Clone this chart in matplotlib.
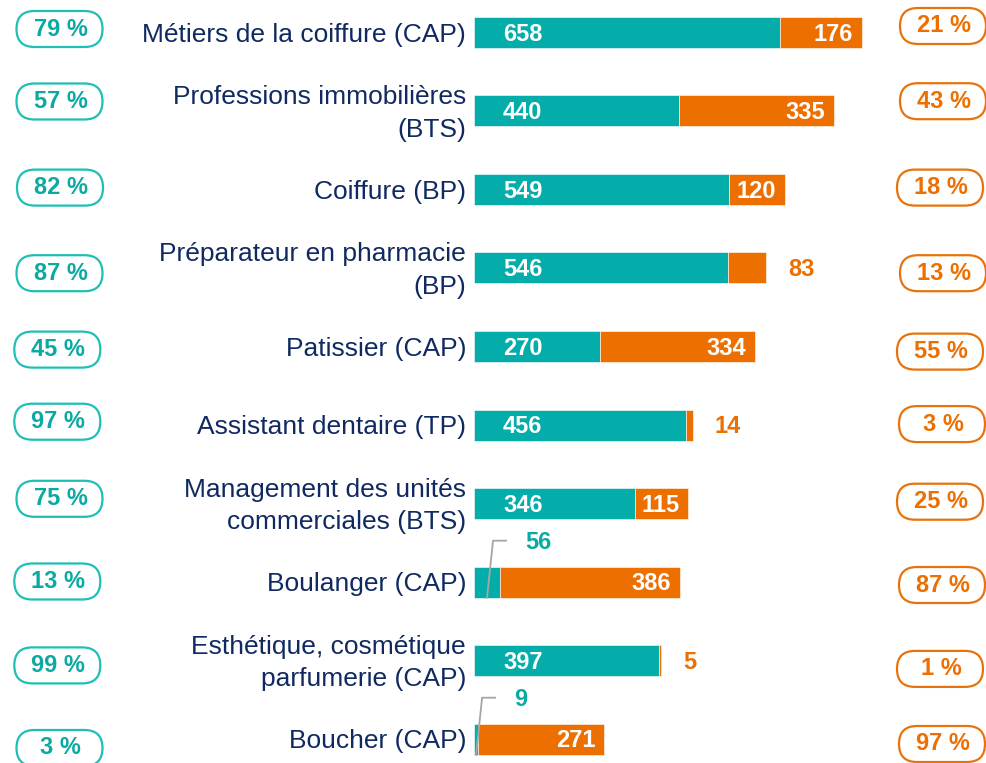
import matplotlib
matplotlib.use("Agg")
import matplotlib.pyplot as plt
from matplotlib.patches import FancyBboxPatch
import matplotlib.transforms as mtransforms

plt.rcParams['font.family'] = ['Liberation Sans', 'DejaVu Sans']

categories = [
    "Métiers de la coiffure (CAP)",
    "Professions immobilières\n(BTS)",
    "Coiffure (BP)",
    "Préparateur en pharmacie\n(BP)",
    "Patissier (CAP)",
    "Assistant dentaire (TP)",
    "Management des unités\ncommerciales (BTS)",
    "Boulanger (CAP)",
    "Esthétique, cosmétique\nparfumerie (CAP)",
    "Boucher (CAP)",
]
teal_values = [658, 440, 549, 546, 270, 456, 346, 56, 397, 9]
orange_values = [176, 335, 120, 83, 334, 14, 115, 386, 5, 271]
teal_pct = ["79 %", "57 %", "82 %", "87 %", "45 %", "97 %", "75 %", "13 %", "99 %", "3 %"]
orange_pct = ["21 %", "43 %", "18 %", "13 %", "55 %", "3 %", "25 %", "87 %", "1 %", "97 %"]

# badge layout (pixel positions of the decorative pills)
left_badge_x = [59.5, 59.5, 60, 59.5, 57.3, 57.3, 59.5, 57.3, 57.3, 59.5]
left_badge_y = [29, 101.5, 187.6, 273.2, 349.6, 421.7, 498.8, 581.5, 665.4, 748]
right_badge_x = [943, 943, 940, 943, 940, 942, 940, 942, 940, 942]
right_badge_y = [26, 101.2, 187.6, 273.2, 351.6, 424.1, 501.7, 585, 668.9, 744]

TEAL = "#04ADA9"
ORANGE = "#EC6F00"
NAVY = "#102A61"
TEAL_BADGE = "#1FBFB6"
TEAL_TXT = "#0AA9A2"
ORANGE_BADGE = "#E8730D"
GREY = "#A6A6A6"

W, H = 986, 763
fig = plt.figure(figsize=(W / 100, H / 100), dpi=100)
ax = fig.add_axes([0, 0, 1, 1])
x0_px, scale = 474, 0.465
row0, step = 32.5, 78.5
ax.set_xlim(-x0_px / scale, (W - x0_px) / scale)
ax.set_ylim((H - row0) / step, -row0 / step)
ax.axis("off")

ov = fig.add_axes([0, 0, 1, 1], zorder=3)
ov.set_xlim(0, W)
ov.set_ylim(H, 0)
ov.axis("off")
ov.patch.set_alpha(0)

def to_px(x, y):
    dx, dy = ax.transData.transform((x, y))
    return dx, H - dy

n = len(categories)
ys = list(range(n))
bh = 31 / step
ax.barh(ys, teal_values, height=bh, color=TEAL, edgecolor="white", linewidth=0.4)
ax.barh(ys, orange_values, left=teal_values, height=bh, color=ORANGE,
        edgecolor="white", linewidth=0.4)

def off(dx, dy=0):
    return mtransforms.offset_copy(ax.transData, fig=fig, x=dx, y=dy, units="dots")

num_kw = dict(fontsize=17, fontweight="bold", va="center")
for i in range(n):
    t, o = teal_values[i], orange_values[i]
    # category label
    ax.text(0, i + 0.03, categories[i], transform=off(-8), ha="right", va="center",
            fontsize=19, color=NAVY, linespacing=1.45)
    # teal value
    if t >= 100:
        ax.text(0, i + 0.02, str(t), transform=off(29), ha="left", color="white", **num_kw)
    else:
        sx, sy = to_px(t / 2, i + 0.2)
        ov.plot([sx, sx + 6, sx + 19], [sy, sy - 57, sy - 57], color=GREY, lw=1.3)
        ov.text(sx + 38, sy - 55, str(t), ha="left", va="center", color=TEAL_TXT,
                fontsize=17, fontweight="bold")
    # orange value
    if o >= 100:
        ax.text(t + o, i + 0.02, str(o), transform=off(-9), ha="right", color="white", **num_kw)
    else:
        ax.text(t + o, i + 0.02, str(o), transform=off(22), ha="left", color=ORANGE, **num_kw)

# badges
bw, bhh, r = 86, 36, 18
for xs, yv, labels, ec, tc in [(left_badge_x, left_badge_y, teal_pct, TEAL_BADGE, TEAL_TXT),
                               (right_badge_x, right_badge_y, orange_pct, ORANGE_BADGE, ORANGE)]:
    for cx, cy, txt in zip(xs, yv, labels):
        p = FancyBboxPatch((cx - bw / 2 + r, cy - bhh / 2 + r), bw - 2 * r, bhh - 2 * r,
                           boxstyle=f"round,pad={r},rounding_size={r}",
                           fc="white", ec=ec, lw=1.6)
        ov.add_patch(p)
        ov.text(cx + 1, cy, txt, ha="center", va="center", color=tc,
                fontsize=17, fontweight="bold")

fig.savefig("out.png", dpi=100)
